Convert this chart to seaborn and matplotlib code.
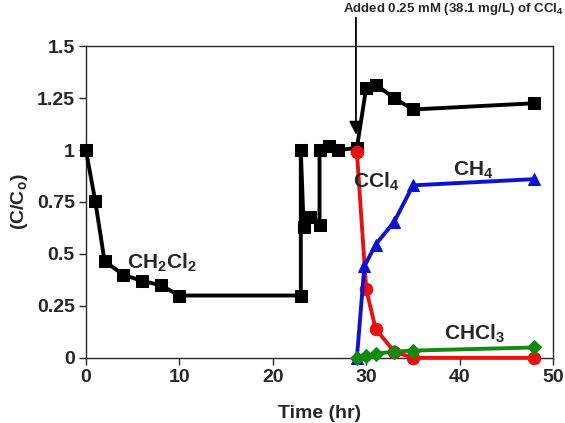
import numpy as np
import pandas as pd
import matplotlib
matplotlib.use('Agg')
import matplotlib.pyplot as plt
import seaborn as sns

# CH2Cl2 run, then CCl4 spike at ~29 hr
ch2cl2_t = [0, 1, 2, 4, 6, 8, 10, 23, 23, 23.3, 24, 25, 25, 26, 27, 29, 30, 31, 33, 35, 48]
ch2cl2_c = [1.0, 0.755, 0.465, 0.40, 0.37, 0.35, 0.30, 0.30, 1.0, 0.63, 0.68, 0.64, 1.0, 1.02, 1.0, 1.01, 1.30, 1.315, 1.25, 1.195, 1.225]

ccl4_t = [29, 30, 31, 33, 35, 48]
ccl4_c = [0.99, 0.33, 0.14, 0.03, 0.0, 0.0]

ch4_t = [29, 29.8, 31, 33, 35, 48]
ch4_c = [0.0, 0.44, 0.545, 0.655, 0.83, 0.86]

chcl3_t = [29, 30, 31, 33, 35, 48]
chcl3_c = [0.0, 0.01, 0.02, 0.03, 0.035, 0.05]

x_ticks = [0, 10, 20, 30, 40, 50]
y_ticks = [0, 0.25, 0.5, 0.75, 1, 1.25, 1.5]
y_ticklabels = ['0', '0.25', '0.5', '0.75', '1', '1.25', '1.5']

sns.set_style('ticks')
plt.rcParams['font.family'] = ['Liberation Sans', 'DejaVu Sans']
plt.rcParams['font.weight'] = 'bold'
plt.rcParams['mathtext.fontset'] = 'custom'
plt.rcParams['mathtext.rm'] = 'Liberation Sans:bold'

fig = plt.figure(figsize=(5.65, 4.23), dpi=100)
ax = fig.add_axes([0.152, 0.154, 0.827, 0.737])

series = [
    (ch2cl2_t, ch2cl2_c, 'black', 's', 9),
    (ccl4_t, ccl4_c, '#e8110f', 'o', 9),
    (ch4_t, ch4_c, '#1010d0', '^', 9),
    (chcl3_t, chcl3_c, '#118a11', 'D', 7.5),
]
for t, c, col, mk, ms in series:
    df = pd.DataFrame({'t': t, 'c': c})
    sns.lineplot(data=df, x='t', y='c', sort=False, color=col, marker=mk,
                 markersize=ms, markeredgecolor=col, linewidth=2.8, ax=ax,
                 estimator=None, clip_on=False, zorder=3)

ax.set_xlim(0, 50)
ax.set_ylim(0, 1.5)
ax.set_xticks(x_ticks)
ax.set_yticks(y_ticks)
ax.set_yticklabels(y_ticklabels)
ax.tick_params(labelsize=14, width=1, length=5, direction='out', pad=3)
for lab in ax.get_xticklabels() + ax.get_yticklabels():
    lab.set_fontweight('bold')
for s in ax.spines.values():
    s.set_linewidth(1)

ax.set_xlabel('Time (hr)', fontsize=14, fontweight='bold', labelpad=14)
ax.set_ylabel('(C/C$_\\mathregular{o}$)', fontsize=14, fontweight='bold', labelpad=5)

ax.text(4.4, 0.43, 'CH$_\\mathregular{2}$Cl$_\\mathregular{2}$', fontsize=15, fontweight='bold')
ax.text(28.6, 0.82, 'CCl$_\\mathregular{4}$', fontsize=15, fontweight='bold')
ax.text(39.3, 0.88, 'CH$_\\mathregular{4}$', fontsize=15, fontweight='bold')
ax.text(38.3, 0.09, 'CHCl$_\\mathregular{3}$', fontsize=15, fontweight='bold')

ax.annotate('', xy=(28.9, 1.06), xytext=(28.9, 1.65),
            arrowprops=dict(arrowstyle='-|>', color='black', lw=1.3,
                            mutation_scale=20), annotation_clip=False)
fig.text(0.997, 0.978, 'Added 0.25 mM (38.1 mg/L) of CCl$_\\mathregular{4}$',
         fontsize=9.5, fontweight='bold', va='center', ha='right')

fig.savefig('out.png', dpi=100)
